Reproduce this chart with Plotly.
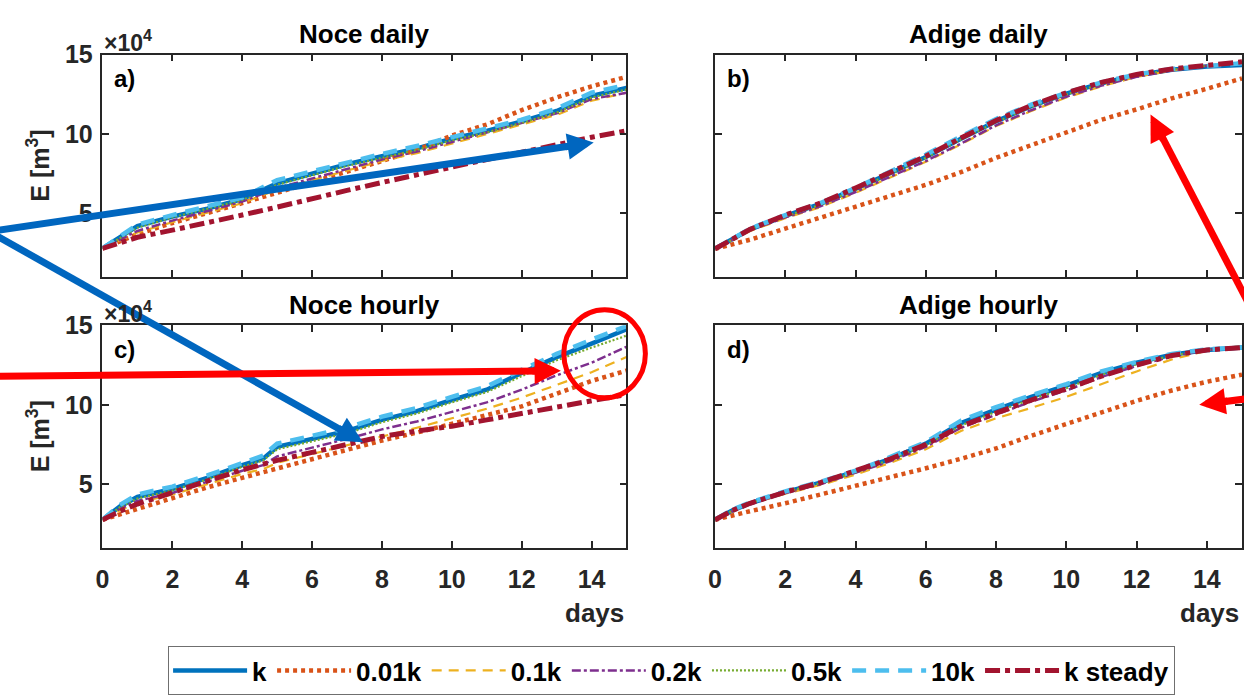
import math
import plotly.graph_objects as go

W, H = 1244, 695

# ---------------- data (E in 1e4 m^3) ----------------
days_daily = [0, 1, 2, 3, 4, 5, 6, 7, 8, 9, 10, 11, 12, 13, 14, 15]
days_hourly = [0, 0.5, 1, 2, 3, 4, 4.6, 5, 6, 7, 8, 9, 10, 11, 12, 13, 14, 15]

series_names = ["k", "0.01k", "0.1k", "0.2k", "0.5k", "10k", "k steady"]

noce_daily = {
    "k":        [2.8, 4.2, 4.8, 5.3, 5.9, 6.9, 7.5, 8.1, 8.6, 9.1, 9.7, 10.2, 10.8, 11.45, 12.4, 12.9],
    "0.01k":    [2.8, 3.7, 4.4, 5.0, 5.65, 6.3, 6.95, 7.6, 8.3, 9.0, 9.9, 10.6, 11.5, 12.3, 13.0, 13.6],
    "0.1k":     [2.8, 3.8, 4.45, 5.05, 5.65, 6.5, 7.1, 7.7, 8.3, 8.8, 9.4, 10.0, 10.6, 11.2, 12.1, 12.6],
    "0.2k":     [2.8, 3.9, 4.55, 5.15, 5.75, 6.6, 7.2, 7.8, 8.4, 8.9, 9.5, 10.1, 10.7, 11.3, 12.2, 12.6],
    "0.5k":     [2.8, 4.1, 4.75, 5.3, 5.85, 6.8, 7.4, 8.0, 8.5, 9.0, 9.6, 10.1, 10.7, 11.35, 12.3, 12.8],
    "10k":      [2.8, 4.3, 4.9, 5.45, 6.0, 7.1, 7.65, 8.25, 8.75, 9.25, 9.8, 10.3, 10.9, 11.6, 12.6, 13.1],
    "k steady": [2.8, 3.5, 3.95, 4.4, 4.9, 5.4, 5.95, 6.45, 6.95, 7.45, 7.95, 8.4, 8.85, 9.35, 9.8, 10.2],
}

adige_daily = {
    "k":        [2.77, 4.0, 4.85, 5.6, 6.55, 7.55, 8.55, 9.7, 10.8, 11.75, 12.55, 13.2, 13.7, 14.05, 14.25, 14.35],
    "0.01k":    [2.77, 3.35, 4.05, 4.75, 5.4, 6.1, 6.8, 7.6, 8.5, 9.3, 10.1, 10.9, 11.55, 12.25, 12.85, 13.5],
    "0.1k":     [2.77, 3.9, 4.7, 5.4, 6.3, 7.25, 8.25, 9.35, 10.5, 11.45, 12.3, 13.0, 13.6, 14.0, 14.3, 14.5],
    "0.2k":     [2.77, 3.95, 4.75, 5.45, 6.35, 7.3, 8.3, 9.4, 10.55, 11.5, 12.35, 13.05, 13.6, 14.0, 14.3, 14.5],
    "0.5k":     [2.77, 4.0, 4.8, 5.55, 6.5, 7.5, 8.5, 9.65, 10.75, 11.7, 12.5, 13.15, 13.7, 14.05, 14.3, 14.45],
    "10k":      [2.77, 4.05, 4.9, 5.65, 6.6, 7.65, 8.7, 9.85, 10.95, 11.85, 12.6, 13.25, 13.75, 14.1, 14.3, 14.45],
    "k steady": [2.77, 4.0, 4.9, 5.65, 6.6, 7.6, 8.6, 9.75, 10.85, 11.8, 12.6, 13.25, 13.75, 14.1, 14.35, 14.55],
}

noce_hourly = {
    "k":        [2.76, 3.6, 4.2, 4.7, 5.4, 6.2, 6.6, 7.35, 7.85, 8.35, 9.05, 9.6, 10.3, 10.95, 12.0, 13.0, 13.85, 14.75],
    "0.01k":    [2.76, 3.1, 3.45, 4.15, 4.8, 5.4, 5.75, 6.0, 6.6, 7.2, 7.75, 8.25, 8.8, 9.3, 9.9, 10.7, 11.5, 12.15],
    "0.1k":     [2.76, 3.35, 3.85, 4.35, 5.0, 5.65, 5.95, 6.35, 6.9, 7.45, 8.0, 8.55, 9.15, 9.75, 10.45, 11.25, 12.05, 13.0],
    "0.2k":     [2.76, 3.45, 3.95, 4.45, 5.15, 5.85, 6.2, 6.75, 7.3, 7.85, 8.45, 8.95, 9.55, 10.15, 10.95, 11.85, 12.65, 13.65],
    "0.5k":     [2.76, 3.55, 4.1, 4.6, 5.3, 6.1, 6.5, 7.2, 7.7, 8.2, 8.9, 9.45, 10.15, 10.8, 11.8, 12.8, 13.6, 14.35],
    "10k":      [2.76, 3.7, 4.35, 4.85, 5.55, 6.35, 6.8, 7.55, 8.05, 8.55, 9.25, 9.8, 10.5, 11.15, 12.2, 13.2, 14.1, 14.95],
    "k steady": [2.76, 3.3, 3.75, 4.5, 5.2, 5.9, 6.25, 6.5, 7.0, 7.5, 8.0, 8.35, 8.65, 9.05, 9.45, 9.8, 10.2, 10.65],
}

adige_hourly = {
    "k":        [2.76, 3.35, 3.8, 4.5, 5.1, 5.8, 6.3, 6.6, 7.55, 8.85, 9.7, 10.5, 11.2, 12.0, 12.65, 13.15, 13.45, 13.6],
    "0.01k":    [2.76, 3.05, 3.3, 3.8, 4.35, 4.9, 5.2, 5.4, 6.0, 6.6, 7.25, 8.05, 8.8, 9.5, 10.25, 10.9, 11.45, 11.9],
    "0.1k":     [2.76, 3.3, 3.75, 4.4, 4.95, 5.6, 6.05, 6.35, 7.2, 8.35, 9.15, 9.8, 10.5, 11.3, 12.1, 12.85, 13.4, 13.7],
    "0.2k":     [2.76, 3.3, 3.75, 4.45, 5.0, 5.7, 6.15, 6.45, 7.35, 8.55, 9.4, 10.2, 10.9, 11.75, 12.45, 13.05, 13.45, 13.65],
    "0.5k":     [2.76, 3.35, 3.8, 4.5, 5.05, 5.75, 6.25, 6.55, 7.45, 8.7, 9.55, 10.35, 11.05, 11.9, 12.55, 13.1, 13.45, 13.6],
    "10k":      [2.76, 3.4, 3.85, 4.55, 5.15, 5.85, 6.35, 6.7, 7.65, 9.0, 9.85, 10.6, 11.3, 12.1, 12.7, 13.2, 13.5, 13.6],
    "k steady": [2.76, 3.35, 3.8, 4.5, 5.1, 5.8, 6.3, 6.6, 7.5, 8.65, 9.5, 10.3, 11.0, 11.8, 12.5, 13.1, 13.45, 13.6],
}

panel_titles = ["Noce daily", "Adige daily", "Noce hourly", "Adige hourly"]
panel_letters = ["a)", "b)", "c)", "d)"]
x_ticks = [0, 2, 4, 6, 8, 10, 12, 14]
y_ticks = [5, 10, 15]

# ---------------- styles ----------------
styles = {
    "k":        dict(color="#0072BD", width=4.5, dash="solid"),
    "0.01k":    dict(color="#D95319", width=4.5, dash="4px,4px"),
    "0.1k":     dict(color="#EDB120", width=2.2, dash="10px,7px"),
    "0.2k":     dict(color="#7E2F8E", width=2.5, dash="9px,3px,3px,3px"),
    "0.5k":     dict(color="#77AC30", width=2.2, dash="2px,2px"),
    "10k":      dict(color="#4DBEEE", width=4.5, dash="14px,9px"),
    "k steady": dict(color="#A2142F", width=5.0, dash="15px,5px,5px,5px"),
}

FONT = "Liberation Sans, Arial, sans-serif"
AX = "#262626"

def px_x(p):
    return p / W

def px_y(p):
    return 1 - p / H

# panel pixel boxes: (left, right, top, bottom)
boxes = [(96, 623, 42, 272), (712, 1242, 42, 272), (96, 623, 322, 552), (712, 1242, 322, 552)]

fig = go.Figure()

panels = [(noce_daily, days_daily), (adige_daily, days_daily),
          (noce_hourly, days_hourly), (adige_hourly, days_hourly)]

for i, (data, xs) in enumerate(panels):
    sfx = "" if i == 0 else str(i + 1)
    for name in series_names:
        fig.add_trace(go.Scatter(
            x=xs, y=data[name], mode="lines", name=name,
            line=styles[name], showlegend=(i == 0), legendgroup=name,
            xaxis="x" + sfx, yaxis="y" + sfx,
        ))

layout = dict(
    width=W, height=H, margin=dict(l=0, r=0, t=0, b=0),
    plot_bgcolor="white", paper_bgcolor="white",
    font=dict(family=FONT, size=22, color=AX, weight="bold"),
    legend=dict(orientation="h", x=px_x(162), y=px_y(654), xanchor="left", yanchor="top",
                bordercolor="#6f6f6f", borderwidth=1, bgcolor="white",
                font=dict(family=FONT, size=26, color="black", weight="bold"),
                itemwidth=74, tracegroupgap=0),
)

for i, (l, r, t, b) in enumerate(boxes):
    sfx = "" if i == 0 else str(i + 1)
    bottom = i >= 2
    left = i % 2 == 0
    layout["xaxis" + sfx] = dict(
        domain=[px_x(l), px_x(r)], range=[0, 15], anchor="y" + sfx,
        tickvals=x_ticks, showticklabels=bottom, ticks="inside", ticklen=7,
        tickwidth=1.5, tickcolor=AX, showline=True, linecolor=AX, linewidth=1.5,
        mirror="ticks", showgrid=False, zeroline=False, ticklabelstandoff=9,
        tickfont=dict(family=FONT, size=25, color=AX, weight="bold"),
    )
    layout["yaxis" + sfx] = dict(
        domain=[px_y(b), px_y(t)], range=[1, 15], anchor="x" + sfx,
        tickvals=y_ticks, showticklabels=left, ticks="inside", ticklen=7,
        tickwidth=1.5, tickcolor=AX, showline=True, linecolor=AX, linewidth=1.5,
        mirror="ticks", showgrid=False, zeroline=False, ticklabelstandoff=3,
        tickfont=dict(family=FONT, size=25, color=AX, weight="bold"),
    )

fig.update_layout(**layout)

ann = []
for i, (l, r, t, b) in enumerate(boxes):
    ann.append(dict(text=panel_titles[i], x=px_x((l + r) / 2), y=px_y(t - 21), xref="paper", yref="paper",
                    showarrow=False, xanchor="center", yanchor="middle",
                    font=dict(family=FONT, size=26, color="black", weight="bold")))
    ann.append(dict(text=panel_letters[i], x=px_x(l + 10), y=px_y(t + 25), xref="paper", yref="paper",
                    showarrow=False, xanchor="left", yanchor="middle",
                    font=dict(family=FONT, size=24, color="black", weight="bold")))
    if i % 2 == 0:
        ann.append(dict(text="×10<sup>4</sup>", x=px_x(l), y=px_y(t - 14), xref="paper", yref="paper",
                        showarrow=False, xanchor="left", yanchor="middle",
                        font=dict(family=FONT, size=23, color=AX, weight="bold")))
        ann.append(dict(text="E [m<sup>3</sup>]", x=px_x(31), y=px_y((t + b) / 2), xref="paper", yref="paper",
                        showarrow=False, textangle=-90, xanchor="center", yanchor="middle",
                        font=dict(family=FONT, size=25, color=AX, weight="bold")))
    if i >= 2:
        ann.append(dict(text="days", x=px_x(r - 1), y=px_y(619), xref="paper", yref="paper",
                        showarrow=False, xanchor="right", yanchor="middle",
                        font=dict(family=FONT, size=26, color=AX, weight="bold")))

# overlay arrows: (head px, tail px off-canvas, color)
arrows = [
    ((590, 133), (-18, 225), "#0066BF"),
    ((358, 443), (-18, 225), "#0066BF"),
    ((557, 369), (-30, 375), "#FF0000"),
    ((1150, 104), (1262, 326), "#FF0000"),
    ((1199, 404), (1262, 396), "#FF0000"),
]
for (hx, hy), (tx, ty), c in arrows:
    dx, dy = tx - hx, ty - hy
    n = math.hypot(dx, dy)
    ux, uy = dx / n, dy / n
    # shaft as a paper-referenced line (may extend off-canvas)
    fig.add_shape(type="line", xref="paper", yref="paper",
                  x0=px_x(tx), y0=px_y(ty), x1=px_x(hx + ux * 12), y1=px_y(hy + uy * 12),
                  line=dict(color=c, width=7), layer="above")
    # head as a short annotation arrow
    ann.append(dict(text="", x=px_x(hx), y=px_y(hy), xref="paper", yref="paper",
                    showarrow=True, ax=ux * 30, ay=uy * 30, axref="pixel", ayref="pixel",
                    arrowhead=2, arrowsize=0.75, arrowwidth=7, arrowcolor=c,
                    standoff=0, startstandoff=0))

fig.update_layout(annotations=ann)

fig.add_shape(type="circle", xref="paper", yref="paper",
              x0=px_x(560), x1=px_x(642), y0=px_y(397), y1=px_y(306),
              line=dict(color="#FF0000", width=5), layer="above")

fig.write_html("out.html")
